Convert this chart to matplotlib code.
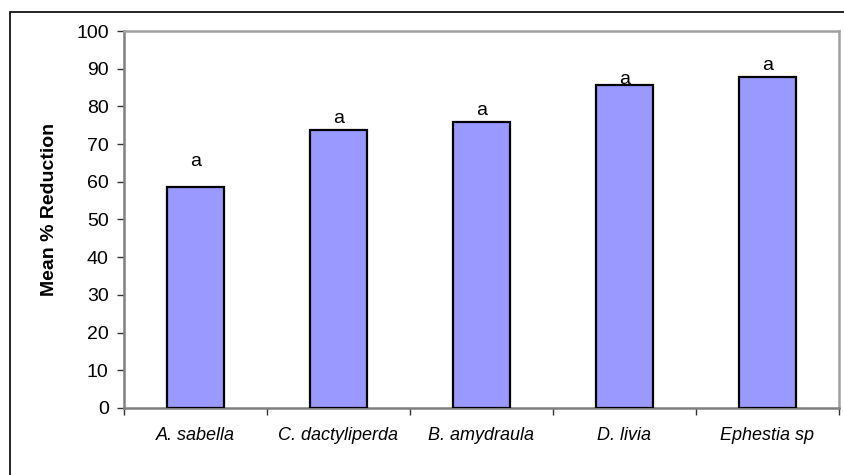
import matplotlib
matplotlib.use("Agg")
import matplotlib.pyplot as plt
from matplotlib.patches import Rectangle
import numpy as np

plt.rcParams["font.family"] = ["Liberation Sans", "DejaVu Sans"]

species = ["A. sabella", "C. dactyliperda", "B. amydraula", "D. livia", "Ephestia sp"]
mean_reduction = [58.5, 73.7, 75.8, 85.7, 87.9]
letters = ["a", "a", "a", "a", "a"]
# gap between bar top and letter baseline (the letters sit at uneven heights)
letter_offset = [5.8, 1.9, 1.9, 0.3, 1.8]

fig = plt.figure(figsize=(8.45, 4.75), dpi=100)
ax = fig.add_axes([0.1467, 0.1411, 0.8462, 0.7936])

# outer chart frame (cut off at right and bottom like the reference)
fig.patches.append(Rectangle((10 / 845, -0.2), 1.2, 0.2 + (1 - 12 / 475),
                             transform=fig.transFigure, fill=False,
                             edgecolor="black", linewidth=1.2, zorder=0))

x = np.arange(len(species))
ax.bar(x, mean_reduction, width=0.4, color="#9999ff", edgecolor="black",
       linewidth=1.6, zorder=3)

for xi, v, lab, off in zip(x, mean_reduction, letters, letter_offset):
    ax.text(xi, v + off, lab, ha="center", va="baseline", fontsize=14)

ax.set_xlim(-0.5, len(species) - 0.5)
ax.set_ylim(0, 100)
ax.set_yticks(range(0, 101, 10))
ax.set_xticks(x)
ax.set_xticklabels(species, fontsize=13, style="italic")
ax.set_xticks(np.arange(-0.5, len(species)), minor=True)
ax.tick_params(axis="x", which="major", length=0, pad=14)
ax.tick_params(axis="x", which="minor", length=5, width=1, color="#333333")
ax.tick_params(axis="y", length=5, width=1, color="#333333", pad=6,
               labelsize=14)
fig.text(50 / 845, 1 - 209 / 475, "Mean % Reduction", rotation=90,
         ha="center", va="center", fontsize=14, fontweight="bold")

for side in ["left", "bottom"]:
    ax.spines[side].set_color("#808080")
    ax.spines[side].set_linewidth(1.8)
for side in ["top", "right"]:
    ax.spines[side].set_color("#a0a0a0")
    ax.spines[side].set_linewidth(1.8)

fig.savefig("out.png", dpi=100)
